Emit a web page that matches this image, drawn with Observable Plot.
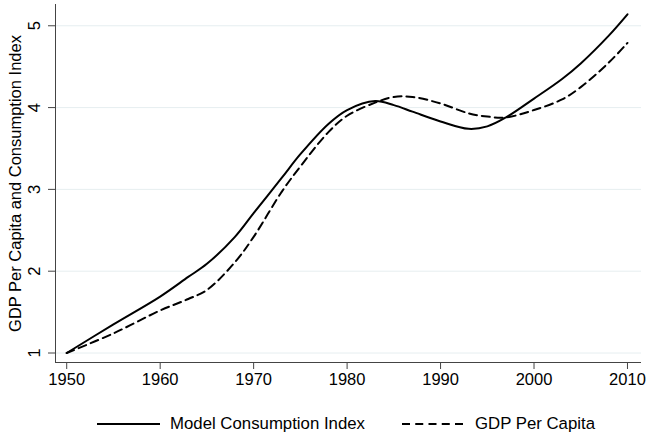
<!DOCTYPE html>
<html>
<head>
<meta charset="utf-8">
<script src="https://cdn.jsdelivr.net/npm/d3@7"></script>
<script src="https://cdn.jsdelivr.net/npm/@observablehq/plot@0.6"></script>
<style>
  body { margin: 0; background: #fff; font-family: "Liberation Sans", Arial, sans-serif; }
  #chart { width: 648px; }
  #chart > svg text { font-size: 16.5px !important; font-family: "Liberation Sans", Arial, sans-serif !important; }
  .legend { position: relative; height: 48px; font-size: 16.8px; color: #000; }
  .legend .item { position: absolute; top: 14px; display: flex; align-items: center; }
  .legend svg { margin-right: 10px; }
</style>
</head>
<body>
<div id="chart"></div>
<script>
const years = [1950, 1955, 1960, 1963, 1965, 1968, 1970, 1973, 1975, 1978, 1980, 1983, 1985, 1987, 1990, 1993, 1995, 1997, 2000, 2003, 2005, 2008, 2010];
const consumption = [1.00, 1.35, 1.69, 1.93, 2.09, 2.42, 2.71, 3.14, 3.43, 3.80, 3.97, 4.08, 4.03, 3.95, 3.83, 3.74, 3.77, 3.88, 4.11, 4.35, 4.54, 4.88, 5.14];
const gdp = [1.00, 1.24, 1.52, 1.66, 1.77, 2.11, 2.42, 2.97, 3.28, 3.70, 3.90, 4.06, 4.13, 4.13, 4.05, 3.93, 3.89, 3.88, 3.97, 4.10, 4.25, 4.55, 4.79];
const xTicks = [1950, 1960, 1970, 1980, 1990, 2000, 2010];
const yTicks = [1, 2, 3, 4, 5];
const seriesNames = ["Model Consumption Index", "GDP Per Capita"];
const yTitle = "GDP Per Capita and Consumption Index";

const rows = [];
years.forEach((yr, i) => {
  rows.push({year: yr, value: consumption[i], series: seriesNames[0]});
  rows.push({year: yr, value: gdp[i], series: seriesNames[1]});
});

const xDomain = [1948.8, 2011.5];
const yDomain = [0.884, 5.26];

const chart = Plot.plot({
  width: 648,
  height: 400,
  marginLeft: 55,
  marginRight: 7,
  marginTop: 4,
  marginBottom: 38,
  style: {fontFamily: "Liberation Sans, Arial, sans-serif", fontSize: "16.5px", color: "#000", background: "#fff"},
  x: {domain: xDomain},
  y: {domain: yDomain},
  marks: [
    Plot.gridY(yTicks, {stroke: "#e6eef0", strokeOpacity: 1, strokeWidth: 1}),
    Plot.line(rows.filter(d => d.series === seriesNames[0]), {x: "year", y: "value", curve: "catmull-rom", stroke: "#000", strokeWidth: 2}),
    Plot.line(rows.filter(d => d.series === seriesNames[1]), {x: "year", y: "value", curve: "catmull-rom", stroke: "#000", strokeWidth: 2, strokeDasharray: "8,5"}),
    Plot.axisX(xTicks, {tickFormat: d => String(d), tickSize: 7, tickPadding: 4, stroke: "#444", fontSize: 16.5, label: null}),
    Plot.axisY(yTicks, {tickFormat: d => String(d), tickSize: 7, tickPadding: 9, tickRotate: -90, stroke: "#444", fontSize: 16.5, label: yTitle, labelAnchor: "center", labelOffset: 46, labelArrow: "none"}),
    Plot.ruleY([yDomain[0]], {stroke: "#444", strokeWidth: 1}),
    Plot.ruleX([xDomain[0]], {stroke: "#444", strokeWidth: 1})
  ]
});
document.getElementById("chart").appendChild(chart);

const legend = document.createElement("div");
legend.className = "legend";
legend.innerHTML = `
  <div class="item" style="left:97px"><svg width="63" height="4"><line x1="0" y1="2" x2="63" y2="2" stroke="#000" stroke-width="2"/></svg><span>${seriesNames[0]}</span></div>
  <div class="item" style="left:402px"><svg width="63" height="4"><line x1="0" y1="2" x2="63" y2="2" stroke="#000" stroke-width="2" stroke-dasharray="8,5.25"/></svg><span>${seriesNames[1]}</span></div>`;
document.getElementById("chart").appendChild(legend);
</script>
</body>
</html>
